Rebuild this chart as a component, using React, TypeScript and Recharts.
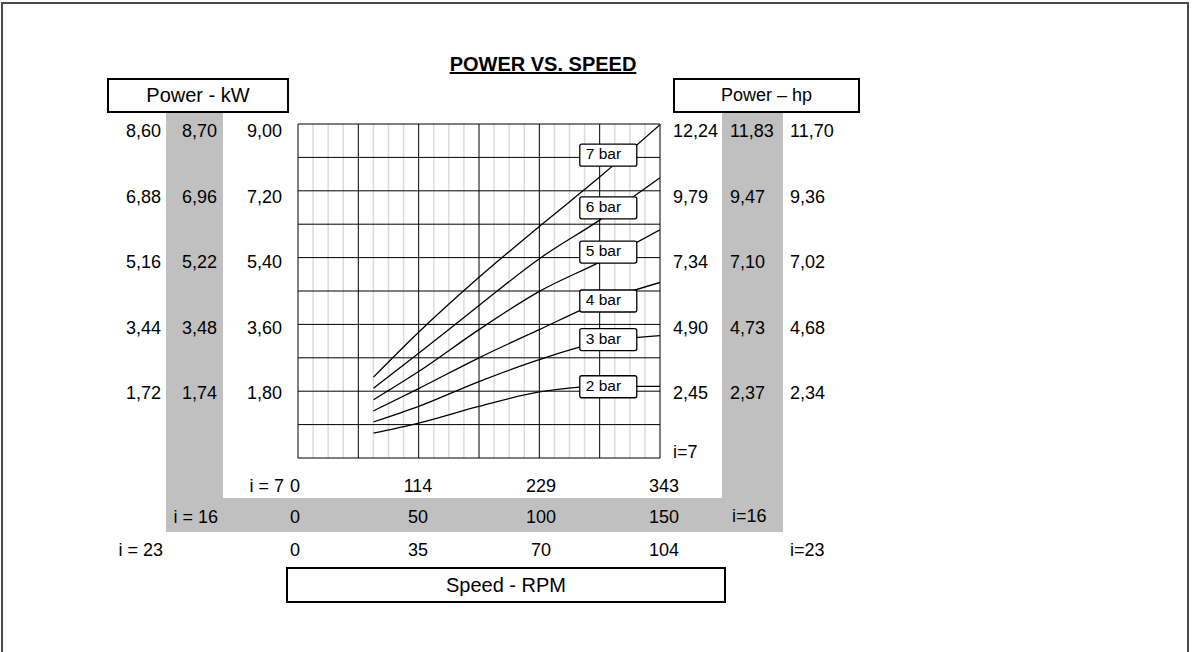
import React from 'react';
import { ComposedChart, Line, Scatter, XAxis, YAxis, CartesianGrid } from 'recharts';

const FONT = '"Liberation Sans", Arial, Helvetica, sans-serif';

// Speed (RPM at gear ratio i = 7) at which the curves are sampled
const speedI7 = [71.5, 114.3, 171.5, 228.7, 285.8, 343];
// Power (kW at i = 7) for each pressure
const power7bar = [2.18, 3.39, 4.87, 6.24, 7.57, 8.98];
const power6bar = [1.88, 2.82, 4.11, 5.37, 6.41, 7.55];
const power5bar = [1.57, 2.33, 3.46, 4.49, 5.28, 6.15];
const power4bar = [1.27, 1.87, 2.7, 3.46, 4.2, 4.73];
const power3bar = [0.97, 1.39, 2.06, 2.65, 3.12, 3.3];
const power2bar = [0.67, 0.94, 1.39, 1.78, 1.93, 1.93];

const pressureNames = ['7 bar', '6 bar', '5 bar', '4 bar', '3 bar', '2 bar'];
const tagSpeed = [294, 294, 294, 294, 294, 294];
const tagPower = [8.16, 6.74, 5.55, 4.23, 3.19, 1.92];

// Tick labels of the side scales
const kwI7 = [1.8, 3.6, 5.4, 7.2, 9.0];
const kwI16 = [1.74, 3.48, 5.22, 6.96, 8.7];
const kwI23 = [1.72, 3.44, 5.16, 6.88, 8.6];
const hpI7 = [2.45, 4.9, 7.34, 9.79, 12.24];
const hpI16 = [2.37, 4.73, 7.1, 9.47, 11.83];
const hpI23 = [2.34, 4.68, 7.02, 9.36, 11.7];
const rpmI7 = [0, 114.33, 228.67, 343];
const rpmI16 = [0, 50, 100, 150];
const rpmI23 = [0, 34.8, 69.6, 104.4];

const SPEED_MAX = 343;
const POWER_MAX = 9;
const powerGrid = [0, 0.9, 1.8, 2.7, 3.6, 4.5, 5.4, 6.3, 7.2, 8.1, 9.0];
const speedMajor = Array.from({ length: 7 }, (_, k) => Math.round(((k * SPEED_MAX) / 6) * 100) / 100);
const speedMinor = Array.from({ length: 25 }, (_, k) => Math.round(((k * SPEED_MAX) / 24) * 100) / 100).filter((_, k) => k % 4 !== 0);

const series = [power7bar, power6bar, power5bar, power4bar, power3bar, power2bar].map((vals, i) => ({
  name: pressureNames[i],
  data: vals.map((y, j) => ({ x: speedI7[j], y })),
}));
const tags = pressureNames.map((name, i) => ({ x: tagSpeed[i], y: tagPower[i], name }));
// rows of the three speed scales (one row per tick)
const rpmRows = rpmI7.map((v, i) => ({ i7: v, i16: rpmI16[i], i23: rpmI23[i] }));

const fmt2 = (v: number) => v.toFixed(2).replace('.', ',');
const FS = 18;

const yTick = (anchor: 'start' | 'end') => (p: any) => (
  <text x={p.x} y={p.y} dy="0.36em" textAnchor={anchor} fontSize={FS} fontFamily={FONT} fill="#000">
    {fmt2(p.payload.value)}
  </text>
);
const xTick = (p: any) => (
  <text x={p.x} y={p.y} dy="0.36em" textAnchor="middle" fontSize={FS} fontFamily={FONT} fill="#000">
    {Math.round(p.payload.value)}
  </text>
);

const gearNote = (leftText: string, rightText: string, leftGap: number, rightGap: number, leftDy: number, rightDy: number) =>
  (props: any) => {
    const vb = props.viewBox ?? props;
    return (
      <g fontFamily={FONT} fontSize={FS} fill="#000">
        <text x={vb.x - leftGap} y={vb.y + leftDy} dy="0.36em" textAnchor="end">{leftText}</text>
        <text x={vb.x + vb.width + rightGap} y={vb.y + rightDy} dy="0.36em" textAnchor="start">{rightText}</text>
      </g>
    );
  };

const BarTag = (p: any) => {
  const { cx, cy, payload } = p;
  return (
    <g>
      <rect x={cx - 28.5} y={cy - 11} width={57} height={22} rx={2} fill="#fff" stroke="#000" strokeWidth={1.3} />
      <text x={cx - 22.5} y={cy - 1.5} dy="0.36em" textAnchor="start" fontSize={15.5} fontFamily={FONT} fill="#000">
        {payload.name}
      </text>
    </g>
  );
};

const abs = (s: React.CSSProperties): React.CSSProperties => ({ position: 'absolute', boxSizing: 'border-box', ...s });
const GRAY = '#c0c0c0';

const common = { type: 'number' as const, interval: 0 as const, tickSize: 0, axisLine: false, tickLine: false, allowDataOverflow: true };

export default function App() {
  const yPad = { top: 7, bottom: 0 };
  const xPad = { left: -3, right: -4 };
  return (
    <div style={abs({ left: 0, top: 0, width: 1192, height: 652, background: '#fff', fontFamily: FONT, overflow: 'hidden' })}>
      {/* outer frame */}
      <div style={abs({ left: 1, top: 2, width: 1188, height: 650, borderTop: '2px solid #4a4a4a', borderLeft: '2px solid #4a4a4a', borderRight: '2px solid #4a4a4a' })} />
      {/* gray bands behind the i = 16 scales */}
      <div style={abs({ left: 166, top: 113, width: 57, height: 419, background: GRAY })} />
      <div style={abs({ left: 722, top: 113, width: 61, height: 419, background: GRAY })} />
      <div style={abs({ left: 166, top: 498, width: 617, height: 34, background: GRAY })} />
      {/* title */}
      <div style={abs({ left: 443, top: 54, width: 200, textAlign: 'center', fontWeight: 'bold', fontSize: 20, lineHeight: '20px', textDecoration: 'underline' })}>
        POWER VS. SPEED
      </div>
      {/* axis title boxes */}
      <div style={abs({ left: 107, top: 78, width: 182, height: 35, border: '2px solid #000', display: 'flex', alignItems: 'center', justifyContent: 'center', fontSize: 20 })}>
        Power - kW
      </div>
      <div style={abs({ left: 673, top: 78, width: 187, height: 35, border: '2px solid #000', display: 'flex', alignItems: 'center', justifyContent: 'center', fontSize: 18 })}>
        Power – hp
      </div>
      <div style={abs({ left: 286, top: 567, width: 440, height: 36, border: '2px solid #000', display: 'flex', alignItems: 'center', justifyContent: 'center', fontSize: 20 })}>
        Speed - RPM
      </div>

      <div style={abs({ left: 0, top: 0, width: 1192, height: 652, zIndex: 1 })}>
        <ComposedChart width={1192} height={652} data={rpmRows} margin={{ top: 124, right: 352, bottom: 87, left: 118 }}>
          <CartesianGrid xAxisId="s" yAxisId="s" horizontal={false} vertical verticalValues={speedMinor} stroke="#dcdcdc" strokeWidth={1.5} />
          <CartesianGrid xAxisId="s" yAxisId="s" horizontal vertical verticalValues={speedMajor} horizontalValues={powerGrid} stroke="#000" strokeWidth={1} />

          {series.map((s) => (
            <Line key={s.name} xAxisId="s" yAxisId="s" data={s.data} dataKey="y" type="monotone" stroke="#000" strokeWidth={1.3} dot={false} activeDot={false} isAnimationActive={false} />
          ))}
          <Scatter xAxisId="s" yAxisId="s" data={tags} dataKey="y" shape={BarTag} isAnimationActive={false} />

          {/* left kW scales */}
          <YAxis yAxisId="L1" orientation="left" {...common} domain={[0, kwI7[kwI7.length - 1]]} ticks={kwI7} width={60} tickMargin={16} padding={yPad} tick={yTick('end')} />
          <YAxis yAxisId="L2" orientation="left" {...common} domain={[0, kwI16[kwI16.length - 1]]} ticks={kwI16} width={60} tickMargin={21} padding={yPad} tick={yTick('end')} />
          <YAxis yAxisId="L3" orientation="left" {...common} domain={[0, kwI23[kwI23.length - 1]]} ticks={kwI23} width={60} tickMargin={17} padding={yPad} tick={yTick('end')} />
          {/* right hp scales */}
          <YAxis yAxisId="R1" orientation="right" {...common} domain={[0, hpI7[hpI7.length - 1]]} ticks={hpI7} width={60} tickMargin={13} padding={yPad} tick={yTick('start')} />
          <YAxis yAxisId="R2" orientation="right" {...common} domain={[0, hpI16[hpI16.length - 1]]} ticks={hpI16} width={60} tickMargin={10} padding={yPad} tick={yTick('start')} />
          <YAxis yAxisId="R3" orientation="right" {...common} domain={[0, hpI23[hpI23.length - 1]]} ticks={hpI23} width={60} tickMargin={10} padding={yPad} tick={yTick('start')} />
          {/* bottom RPM scales */}
          <XAxis xAxisId="B1" dataKey="i7" orientation="bottom" {...common} domain={[0, rpmI7[rpmI7.length - 1]]} ticks={rpmI7} height={44} tickMargin={28} padding={xPad} tick={xTick} label={gearNote('i = 7', 'i=7', 14, 13, 28, -6)} />
          <XAxis xAxisId="B2" dataKey="i16" orientation="bottom" {...common} domain={[0, rpmI16[rpmI16.length - 1]]} ticks={rpmI16} height={32} tickMargin={15} padding={xPad} tick={xTick} label={gearNote('i = 16', 'i=16', 80, 72, 15, 14)} />
          <XAxis xAxisId="B3" dataKey="i23" orientation="bottom" {...common} domain={[0, rpmI23[rpmI23.length - 1]]} ticks={rpmI23} height={31} tickMargin={16} padding={xPad} tick={xTick} label={gearNote('i = 23', 'i=23', 135, 130, 16, 16)} />

          {/* scales carrying the curves */}
          <XAxis xAxisId="s" dataKey="x" type="number" domain={[0, SPEED_MAX]} allowDataOverflow interval={0} hide height={0} />
          <YAxis yAxisId="s" dataKey="y" type="number" domain={[0, POWER_MAX]} allowDataOverflow interval={0} hide width={0} />
        </ComposedChart>
      </div>
    </div>
  );
}
